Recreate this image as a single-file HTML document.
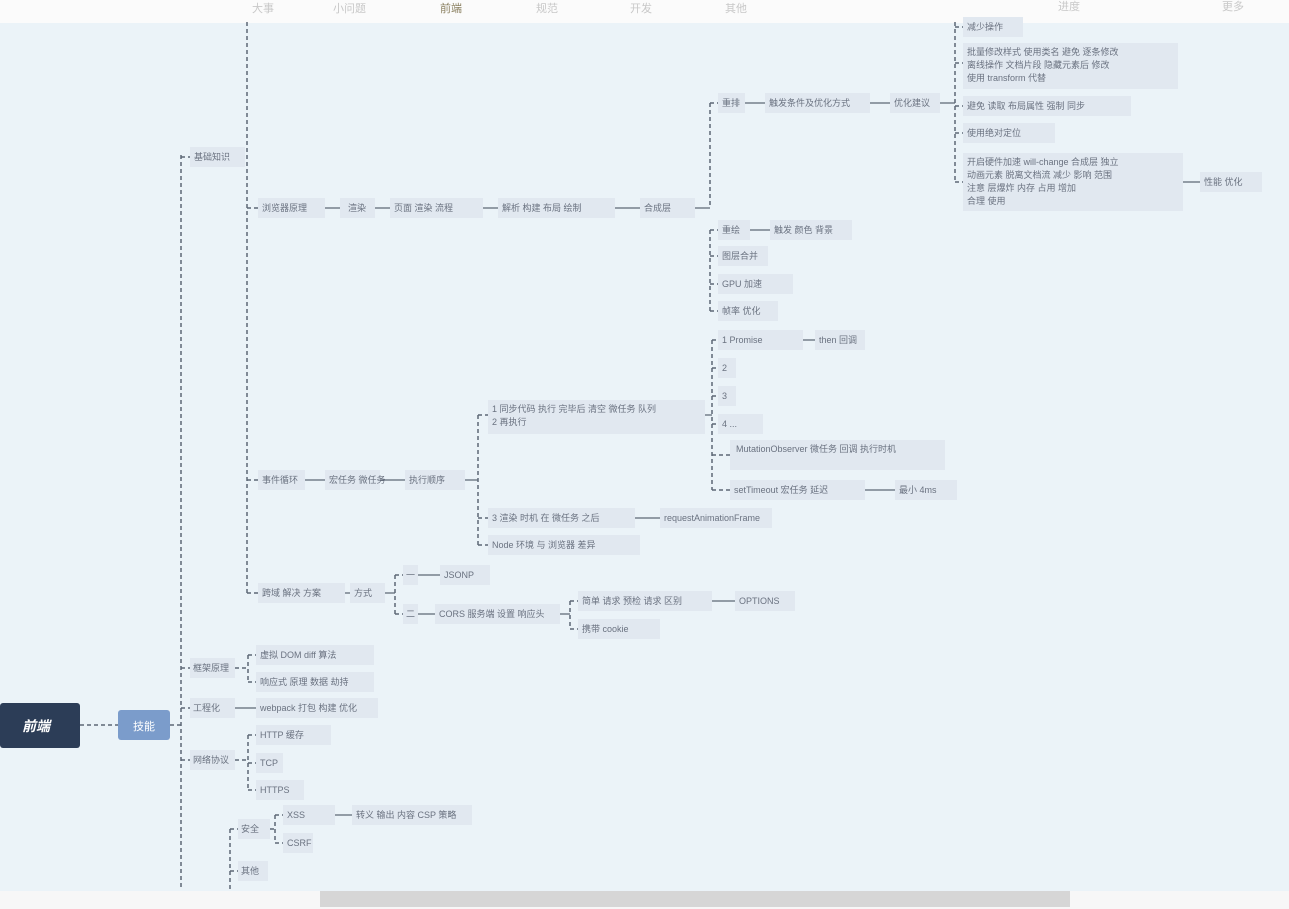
<!DOCTYPE html>
<html><head><meta charset="utf-8"><style>
html,body{margin:0;padding:0;width:1289px;height:909px;overflow:hidden;background:#ebf3f8;font-family:"Liberation Sans","Noto Sans CJK SC",sans-serif}
svg{position:absolute;left:0;top:0}
.b{fill:#e1e8f0}
.t{font-size:9px;fill:#6a7280}
.l{stroke:#5d6876;stroke-width:1.5;stroke-dasharray:4 3;fill:none}
.s{stroke:#5d6876;stroke-width:1.2;fill:none}
.tab{font-size:11px;fill:#c8c8c8}
</style></head><body>
<svg width="1289" height="909" viewBox="0 0 1289 909">
<rect x="0" y="0" width="1289" height="23" fill="#fbfbfb"/>
<text class="tab" x="252" y="12">大事</text><text class="tab" x="333" y="12">小问题</text>
<text x="440" y="12" font-size="11" fill="#8a8060">前端</text><text class="tab" x="536" y="12">规范</text>
<text class="tab" x="630" y="12">开发</text><text class="tab" x="725" y="12">其他</text>
<text class="tab" x="1058" y="10">进度</text><text class="tab" x="1222" y="10">更多</text>

<!-- connectors -->
<path class="l" d="M181 155V890 M181 157H190 M247 22V593 M181 668H190 M181 708H190 M181 760H190"/>
<path class="l" d="M80 725H118 M170 725H181"/>
<path class="l" d="M247 208H258 M247 480H258 M247 593H258"/>
<path class="s" d="M325 208H340 M375 208H390 M483 208H498 M615 208H640 M695 208H710"/>
<path class="l" d="M710 103V205 M710 103H718 M710 230V311 M710 230H718 M710 256H718 M710 284H718 M710 311H718"/>
<path class="s" d="M745 103H765 M870 103H890 M940 103H955 M750 230H770"/>
<path class="l" d="M955 22V182 M955 27H963 M955 63H963 M955 106H963 M955 133H963 M955 182H963"/>
<path class="s" d="M1183 182H1200"/>
<path class="s" d="M305 480H325 M380 480H405 M465 480H478"/>
<path class="l" d="M478 415V545 M478 415H488 M478 518H488 M478 545H488"/>
<path class="s" d="M705 415H712 M635 518H660"/>
<path class="l" d="M712 340V490 M712 340H718 M712 368H718 M712 396H718 M712 424H718 M712 455H730 M712 490H730"/>
<path class="s" d="M803 340H815 M865 490H895"/>
<path class="s" d="M345 593H350 M385 593H395"/>
<path class="l" d="M395 575V614 M395 575H403 M395 614H403"/>
<path class="s" d="M418 575H440 M418 614H435 M560 614H570"/>
<path class="l" d="M570 601V629 M570 601H578 M570 629H578"/>
<path class="s" d="M712 601H735"/>
<path class="l" d="M248 655V682 M235 668H248 M248 655H256 M248 682H256"/>
<path class="s" d="M235 708H256"/>
<path class="l" d="M248 735V790 M235 760H248 M248 735H256 M248 763H256 M248 790H256"/>
<path class="l" d="M230 829V890 M230 829H238 M230 871H238"/>
<path class="l" d="M275 815V843 M270 829H275 M275 815H283 M275 843H283"/>
<path class="s" d="M335 815H352"/>

<!-- root -->
<rect x="0" y="703" width="80" height="45" rx="3" fill="#2c3d57"/>
<text x="22" y="731" font-size="14" font-weight="bold" font-style="italic" fill="#fff">前端</text>
<rect x="118" y="710" width="52" height="30" rx="3" fill="#7b9ccb"/>
<text x="133" y="730" font-size="11" fill="#fff">技能</text>

<!-- nodes -->
<g>
<rect class="b" x="190" y="147" width="55" height="20"/><text class="t" x="194" y="160">基础知识</text>
<rect class="b" x="258" y="198" width="67" height="20"/><text class="t" x="262" y="211">浏览器原理</text>
<rect class="b" x="340" y="198" width="35" height="20"/><text class="t" x="348" y="211">渲染</text>
<rect class="b" x="390" y="198" width="93" height="20"/><text class="t" x="394" y="211">页面 渲染 流程</text>
<rect class="b" x="498" y="198" width="117" height="20"/><text class="t" x="502" y="211">解析 构建 布局 绘制</text>
<rect class="b" x="640" y="198" width="55" height="20"/><text class="t" x="644" y="211">合成层</text>
<rect class="b" x="718" y="93" width="27" height="20"/><text class="t" x="722" y="106">重排</text>
<rect class="b" x="765" y="93" width="105" height="20"/><text class="t" x="769" y="106">触发条件及优化方式</text>
<rect class="b" x="890" y="93" width="50" height="20"/><text class="t" x="894" y="106">优化建议</text>
<rect class="b" x="963" y="17" width="60" height="20"/><text class="t" x="967" y="30">减少操作</text>
<rect class="b" x="963" y="43" width="215" height="46"/><text class="t" x="967" y="55">批量修改样式 使用类名 避免 逐条修改</text><text class="t" x="967" y="68">离线操作 文档片段 隐藏元素后 修改</text><text class="t" x="967" y="81">使用 transform 代替</text>
<rect class="b" x="963" y="96" width="168" height="20"/><text class="t" x="967" y="109">避免 读取 布局属性 强制 同步</text>
<rect class="b" x="963" y="123" width="92" height="20"/><text class="t" x="967" y="136">使用绝对定位</text>
<rect class="b" x="963" y="153" width="220" height="58"/><text class="t" x="967" y="165">开启硬件加速 will-change 合成层 独立</text><text class="t" x="967" y="178">动画元素 脱离文档流 减少 影响 范围</text><text class="t" x="967" y="191">注意      层爆炸 内存 占用 增加</text><text class="t" x="967" y="204">合理   使用</text>
<rect class="b" x="1200" y="172" width="62" height="20"/><text class="t" x="1204" y="185">性能 优化</text>
<rect class="b" x="718" y="220" width="32" height="20"/><text class="t" x="722" y="233">重绘</text>
<rect class="b" x="770" y="220" width="82" height="20"/><text class="t" x="774" y="233">触发 颜色 背景</text>
<rect class="b" x="718" y="246" width="50" height="20"/><text class="t" x="722" y="259">图层合并</text>
<rect class="b" x="718" y="274" width="75" height="20"/><text class="t" x="722" y="287">GPU 加速</text>
<rect class="b" x="718" y="301" width="60" height="20"/><text class="t" x="722" y="314">帧率 优化</text>

<rect class="b" x="258" y="470" width="47" height="20"/><text class="t" x="262" y="483">事件循环</text>
<rect class="b" x="325" y="470" width="55" height="20"/><text class="t" x="329" y="483">宏任务 微任务</text>
<rect class="b" x="405" y="470" width="60" height="20"/><text class="t" x="409" y="483">执行顺序</text>
<rect class="b" x="488" y="400" width="217" height="34"/><text class="t" x="492" y="412">1 同步代码 执行 完毕后 清空 微任务 队列</text><text class="t" x="492" y="425">2 再执行</text>
<rect class="b" x="718" y="330" width="85" height="20"/><text class="t" x="722" y="343">1 Promise</text>
<rect class="b" x="815" y="330" width="50" height="20"/><text class="t" x="819" y="343">then 回调</text>
<rect class="b" x="718" y="358" width="18" height="20"/><text class="t" x="722" y="371">2</text>
<rect class="b" x="718" y="386" width="18" height="20"/><text class="t" x="722" y="399">3</text>
<rect class="b" x="718" y="414" width="45" height="20"/><text class="t" x="722" y="427">4 ...</text>
<rect class="b" x="730" y="440" width="215" height="30"/><text class="t" x="736" y="452">MutationObserver 微任务 回调 执行时机</text>
<rect class="b" x="730" y="480" width="135" height="20"/><text class="t" x="734" y="493">setTimeout 宏任务 延迟</text>
<rect class="b" x="895" y="480" width="62" height="20"/><text class="t" x="899" y="493">最小 4ms</text>
<rect class="b" x="488" y="508" width="147" height="20"/><text class="t" x="492" y="521">3 渲染 时机 在 微任务 之后</text>
<rect class="b" x="660" y="508" width="112" height="20"/><text class="t" x="664" y="521">requestAnimationFrame</text>
<rect class="b" x="488" y="535" width="152" height="20"/><text class="t" x="492" y="548">Node 环境 与 浏览器 差异</text>

<rect class="b" x="258" y="583" width="87" height="20"/><text class="t" x="262" y="596">跨域 解决 方案</text>
<rect class="b" x="350" y="583" width="35" height="20"/><text class="t" x="354" y="596">方式</text>
<rect class="b" x="403" y="565" width="15" height="20"/><text class="t" x="406" y="578">一</text>
<rect class="b" x="440" y="565" width="50" height="20"/><text class="t" x="444" y="578">JSONP</text>
<rect class="b" x="403" y="604" width="15" height="20"/><text class="t" x="406" y="617">二</text>
<rect class="b" x="435" y="604" width="125" height="20"/><text class="t" x="439" y="617">CORS 服务端 设置 响应头</text>
<rect class="b" x="578" y="591" width="134" height="20"/><text class="t" x="582" y="604">简单 请求 预检 请求 区别</text>
<rect class="b" x="735" y="591" width="60" height="20"/><text class="t" x="739" y="604">OPTIONS</text>
<rect class="b" x="578" y="619" width="82" height="20"/><text class="t" x="582" y="632">携带 cookie</text>

<rect class="b" x="190" y="658" width="45" height="20"/><text class="t" x="193" y="671">框架原理</text>
<rect class="b" x="256" y="645" width="118" height="20"/><text class="t" x="260" y="658">虚拟 DOM diff 算法</text>
<rect class="b" x="256" y="672" width="118" height="20"/><text class="t" x="260" y="685">响应式 原理 数据 劫持</text>
<rect class="b" x="190" y="698" width="45" height="20"/><text class="t" x="193" y="711">工程化</text>
<rect class="b" x="256" y="698" width="122" height="20"/><text class="t" x="260" y="711">webpack 打包 构建 优化</text>
<rect class="b" x="190" y="750" width="45" height="20"/><text class="t" x="193" y="763">网络协议</text>
<rect class="b" x="256" y="725" width="75" height="20"/><text class="t" x="260" y="738">HTTP 缓存</text>
<rect class="b" x="256" y="753" width="27" height="20"/><text class="t" x="260" y="766">TCP</text>
<rect class="b" x="256" y="780" width="48" height="20"/><text class="t" x="260" y="793">HTTPS</text>
<rect class="b" x="238" y="819" width="32" height="20"/><text class="t" x="241" y="832">安全</text>
<rect class="b" x="283" y="805" width="52" height="20"/><text class="t" x="287" y="818">XSS</text>
<rect class="b" x="352" y="805" width="120" height="20"/><text class="t" x="356" y="818">转义 输出 内容 CSP 策略</text>
<rect class="b" x="283" y="833" width="30" height="20"/><text class="t" x="287" y="846">CSRF</text>
<rect class="b" x="238" y="861" width="30" height="20"/><text class="t" x="241" y="874">其他</text>
</g>

<rect x="0" y="891" width="1289" height="18" fill="#f7f7f7"/>
<rect x="320" y="891" width="750" height="16" fill="#d6d6d6"/>
</svg>
</body></html>
